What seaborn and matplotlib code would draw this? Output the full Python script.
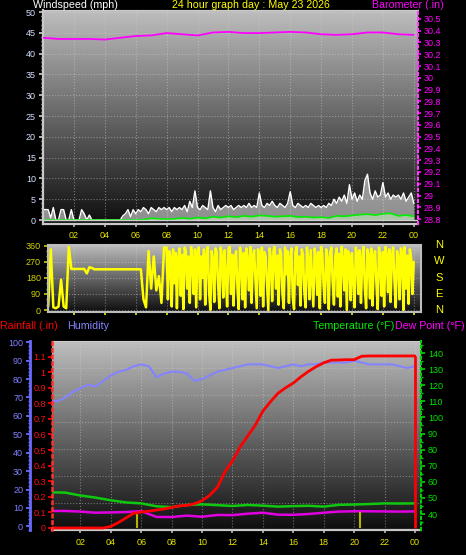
"""24 hour weather graph: wind / barometer, wind direction, rain / humidity / temperature."""
import numpy as np
import pandas as pd
import matplotlib
matplotlib.use("Agg")
import matplotlib.pyplot as plt
from matplotlib.colors import LinearSegmentedColormap
from matplotlib.ticker import MultipleLocator, FixedLocator, FuncFormatter
import seaborn as sns

sns.set_theme(style="dark")
plt.rcParams["font.family"] = ["Liberation Sans", "DejaVu Sans"]

TITLE = "24 hour graph day : May 23 2026"
HOUR_TICKS = [2, 4, 6, 8, 10, 12, 14, 16, 18, 20, 22, 24]
HOUR_LABELS = ["02", "04", "06", "08", "10", "12", "14", "16", "18", "20", "22", "00"]
COMPASS = ["N", "W", "S", "E", "N"]

# ---- 10 minute samples (00:00 .. 24:00) ----
wind_gust = [
    2.5, 2.5, 2.5, 0.5, 3.0, 0,
    0, 2.5, 2.5, 0, 0, 2.5,
    0, 0, 0, 2.5, 1.5, 0,
    1.2, 0, 0, 0, 0, 0,
    0, 0, 0, 0, 0, 0,
    0, 1.0, 1.5, 2.5, 0.8, 2.5,
    1.5, 2.5, 2.0, 3.0, 2.5, 1.5,
    3.0, 2.5, 2.0, 3.0, 2.5, 3.0,
    2.5, 3.0, 2.0, 3.0, 2.5, 3.0,
    2.5, 3.5, 2.0, 4.5, 3.0, 7.0,
    3.0, 2.5, 3.5, 3.0, 2.5, 7.0,
    3.0, 2.0, 3.5, 2.5, 3.0, 3.5,
    3.0, 3.5, 2.5, 3.0, 3.5, 3.0,
    3.5, 3.0, 4.0, 3.0, 3.5, 3.0,
    6.5, 3.5, 3.0, 4.0, 3.5, 4.5,
    3.5, 3.0, 4.0, 3.5, 3.0, 4.0,
    6.8, 3.5, 3.0, 4.0, 3.5, 3.0,
    3.5, 3.0, 4.0, 3.5, 3.0, 3.5,
    3.0, 3.5, 3.0, 4.0, 3.5, 5.0,
    4.0, 5.5, 4.5, 6.0, 4.0, 8.5,
    5.0, 6.5, 4.5, 6.0, 5.0, 9.5,
    11.0, 6.5, 5.0, 7.0, 5.5, 6.0,
    9.0, 5.5, 6.5, 5.0, 6.0, 5.5,
    6.0, 5.0, 6.5, 4.5, 5.5, 6.5,
    4.0,
]

# wind direction: 10 minute samples 00:00 .. 07:50
wind_dir_early = [
    270, 350, 20, 340, 15, 10, 20, 170, 20, 10, 355, 230,
    230, 230, 230, 230, 230, 205, 240, 235, 228, 228,
    228, 228, 228, 228, 228, 228, 228, 228, 228, 228, 228, 228, 228, 228, 228, 228, 228,
    60, 15, 330, 120, 300, 110, 190, 40, 350,
]
# wind direction: 5 minute samples 08:00 .. 24:00
wind_dir_late = [
    350, 60, 330, 300, 20, 340, 150, 320, 10, 290, 345, 80,
    310, 5, 350, 330, 120, 300, 40, 355, 280, 90, 340, 15,
    325, 350, 60, 300, 180, 340, 30, 310, 355, 100, 0, 330,
    290, 45, 345, 320, 140, 10, 350, 300, 70, 335, 200, 20,
    340, 360, 90, 310, 25, 290, 330, 130, 5, 350, 300, 60,
    320, 15, 345, 280, 110, 355, 40, 300, 335, 170, 10, 340,
    310, 80, 350, 20, 325, 300, 150, 0, 345, 290, 50, 330,
    360, 120, 305, 30, 340, 315, 90, 10, 350, 200, 330, 40,
    295, 345, 70, 5, 320, 355, 140, 300, 25, 340, 310, 100,
    15, 350, 290, 60, 335, 180, 20, 345, 300, 85, 325, 10,
    355, 310, 130, 40, 340, 290, 5, 320, 350, 160, 30, 300,
    345, 75, 315, 20, 355, 280, 110, 340, 0, 330, 300, 55,
    320, 190, 15, 350, 305, 90, 335, 40, 290, 355, 125, 10,
    340, 310, 65, 345, 25, 300, 330, 150, 5, 350, 285, 80,
    325, 20, 355, 310, 100, 340, 45, 295, 350, 170, 15, 330,
    300, 60, 345, 315, 0, 355, 120, 305, 35, 340, 290, 90,
    270,
]

# ---- 30 minute samples ----
wind_avg = [
    0, 0, 0, 0, 0, 0, 0, 0, 0, 0, 0, 0, 0,
    0.1, 0.4, 0.3, 0.2, 0.3, 0.5, 0.3, 0.6, 0.4, 0.8, 0.6, 0.9,
    0.7, 1.0, 0.8, 1.1, 1.0, 0.8, 0.9, 1.0, 0.7, 0.8, 0.6, 0.7,
    0.5, 1.0, 0.9, 1.1, 1.3, 1.4, 1.2, 1.5, 1.6, 1.0, 1.2, 0.9,
]
humidity = [
    68, 68, 70, 73, 75, 77, 76, 79, 82, 84, 85, 87, 88,
    87, 81, 83, 84, 84, 83, 79, 80, 82, 84, 85, 86,
    87, 88, 88, 88, 87, 86, 87, 88, 87, 88, 88, 89,
    89, 89, 89, 90, 89, 88, 88, 88, 88, 87, 86, 87,
]
rain = [
    0, 0, 0, 0, 0, 0, 0, 0,
    0.01, 0.035, 0.065, 0.094, 0.102, 0.108, 0.115, 0.122, 0.132, 0.142,
    0.145, 0.155, 0.175, 0.21, 0.26, 0.36, 0.43, 0.52, 0.59, 0.66,
    0.75, 0.81, 0.865, 0.9, 0.93, 0.97, 1.005, 1.035, 1.06, 1.077,
    1.078, 1.08, 1.08, 1.102, 1.104, 1.104, 1.104, 1.104, 1.104, 1.104, 1.104,
]

# ---- hourly samples ----
baro = [
    30.34, 30.33, 30.33, 30.33, 30.325, 30.34, 30.355, 30.36, 30.38, 30.37,
    30.36, 30.385, 30.39, 30.38, 30.38, 30.385, 30.39, 30.385, 30.37, 30.365,
    30.37, 30.385, 30.385, 30.37, 30.365,
]
temperature = [
    53.5, 53.3, 51.5, 50.2, 48.5, 47.2, 46.6, 44.8, 44.3, 45.6,
    46.0, 45.5, 45.0, 45.6, 45.2, 44.6, 44.9, 45.1, 44.6, 45.7,
    45.9, 46.2, 46.6, 46.5, 46.6,
]
dew_point = [
    41.9, 41.9, 41.5, 40.8, 41.0, 41.2, 41.8, 38.2, 38.1, 39.0,
    38.3, 39.4, 39.3, 40.2, 40.8, 39.6, 39.5, 40.0, 40.8, 41.5,
    41.7, 41.7, 41.6, 41.5, 41.6,
]
rate_hours = [5.75, 20.4]
rain_rate = [0.1, 0.1]

wind10 = pd.DataFrame({"hour": np.arange(len(wind_gust)) / 6, "gust": wind_gust})
dir_df = pd.DataFrame({
    "hour": np.concatenate([np.arange(len(wind_dir_early)) / 6,
                            8 + np.arange(len(wind_dir_late)) / 12]),
    "dir": wind_dir_early + wind_dir_late,
})
half = pd.DataFrame({"hour": np.arange(len(rain)) / 2, "avg": wind_avg,
                     "hum": humidity, "rain": rain})
hourly = pd.DataFrame({"hour": np.arange(len(baro)), "baro": baro,
                       "temp": temperature, "dew": dew_point})

W, H = 466, 555
TICK_FS = 6.5
YELLOW = "#e8e800"
BG = LinearSegmentedColormap.from_list("bg", ["#0e0e0e", "#bebebe"])


def rect(x0, y0, x1, y1):
    return [x0 / W, 1 - y1 / H, (x1 - x0) / W, (y1 - y0) / H]


def panel(fig, r, hlines=()):
    bg = fig.add_axes(r, zorder=0)
    bg.imshow(np.linspace(1, 0, 256)[:, None], cmap=BG, aspect="auto",
              extent=[0, 1, 0, 1], vmin=0, vmax=1)
    for y in hlines:
        bg.axhline(y, color="#d0d0d0", ls=":", lw=0.8, alpha=0.45)
    bg.set_xlim(0, 1)
    bg.set_ylim(0, 1)
    bg.set_axis_off()
    ax = fig.add_axes(r, zorder=1)
    ax.patch.set_visible(False)
    return ax


def trim(v, _):
    return f"{v:.1f}".rstrip("0").rstrip(".")


def clean(ax):
    ax.set_xlabel("")
    ax.set_ylabel("")


def ftext(x, y, s, color, **kw):
    kw.setdefault("ha", "left")
    fig.text(x / W, 1 - y / H, s, color=color, fontsize=7.7, va="center", **kw)


fig = plt.figure(figsize=(W / 100, H / 100), dpi=100, facecolor="black")

# --------------------------- wind speed + barometer -----------------------
ax1 = panel(fig, rect(43, 10, 418, 224))
ax1.fill_between(wind10["hour"], 0, wind10["gust"], color="#e4e4e4",
                 alpha=0.6, lw=0)
sns.lineplot(data=wind10, x="hour", y="gust", ax=ax1, color="white", lw=1.0)
ax1.fill_between(half["hour"], 0, half["avg"], color="#c0ecb8", alpha=0.6, lw=0)
sns.lineplot(data=half, x="hour", y="avg", ax=ax1, color="#00ee00", lw=1.2)
ax1.axhline(0, color="#cfcfcf", lw=1)
ax1.set_xlim(0, 24.27)
ax1.set_ylim(-0.96, 50.5)
ax1.set_xticks(HOUR_TICKS)
ax1.set_xticklabels(HOUR_LABELS)
ax1.yaxis.set_major_locator(MultipleLocator(5))
ax1.yaxis.set_minor_locator(MultipleLocator(1))
ax1.tick_params(axis="x", bottom=True, length=2.5, pad=2.5, color="#b0b0b0",
                labelcolor=YELLOW, labelsize=TICK_FS)
ax1.tick_params(axis="y", which="both", left=True, color="#c8c8c8",
                labelcolor="#d4e0ff", labelsize=TICK_FS, pad=2)
ax1.tick_params(axis="y", which="major", length=3)
ax1.tick_params(axis="y", which="minor", length=1.5)
ax1.grid(True, color="#d8d8d8", ls=":", lw=0.8, alpha=0.45)
clean(ax1)
for side in ("left", "bottom"):
    ax1.spines[side].set_color("#c8c8c8")
    ax1.spines[side].set_linewidth(1.6)
ax1.spines["top"].set_color("#cccccc")
ax1.spines["top"].set_linewidth(0.8)
ax1.spines["right"].set_visible(False)

ax1b = ax1.twinx()
ax1b.set_zorder(2)
sns.lineplot(data=hourly, x="hour", y="baro", ax=ax1b, color="#ff00ff", lw=1.3)
ax1b.set_ylim(28.758, 30.576)
ax1b.yaxis.set_major_locator(FixedLocator(np.round(np.arange(28.8, 30.55, 0.1), 1)))
ax1b.yaxis.set_major_formatter(FuncFormatter(trim))
ax1b.tick_params(axis="y", right=True, length=2.5, pad=1.5, color="#ff00ff",
                 labelcolor="#ff00ff", labelsize=TICK_FS)
clean(ax1b)
for side in ("left", "top", "bottom"):
    ax1b.spines[side].set_visible(False)
ax1b.spines["right"].set_color("#ff40ff")
ax1b.spines["right"].set_linestyle(":")
ax1b.spines["right"].set_linewidth(1.5)

# --------------------------- wind direction -------------------------------
ax2 = panel(fig, rect(48, 245, 421, 312))
sns.lineplot(data=dir_df, x="hour", y="dir", ax=ax2, color="#ffff00", lw=1.8)
ax2.set_xlim(0.32, 24.47)
ax2.set_ylim(-11, 364)
ax2.set_xticks(HOUR_TICKS)
ax2.set_xticklabels([])
ax2.set_yticks([0, 90, 180, 270, 360])
ax2.yaxis.set_minor_locator(MultipleLocator(30))
ax2.tick_params(axis="x", bottom=True, length=2, color=YELLOW)
ax2.tick_params(axis="y", which="both", left=True, color="#c8c800",
                labelcolor="#d4d400", labelsize=TICK_FS, pad=2)
ax2.tick_params(axis="y", which="major", length=3)
ax2.tick_params(axis="y", which="minor", length=1.5)
ax2.grid(True, color="#d8d8d8", ls=":", lw=0.8, alpha=0.45)
clean(ax2)
for s in ax2.spines.values():
    s.set_color("#bdbdbd")
    s.set_linewidth(1.5)
for i, d in enumerate(COMPASS):
    fig.text(439 / W, 1 - (245 + i * 16.3) / H, d, color="#ffff00", fontsize=8,
             ha="center", va="center")

# --------------------------- rain / humidity / temperature ----------------
ax_h = panel(fig, rect(52, 341, 421, 530), hlines=[k / 7 for k in range(1, 7)])
sns.lineplot(data=half, x="hour", y="hum", ax=ax_h, color="#8484ff", lw=1.5)
ax_h.set_xlim(0.13, 24.4)
ax_h.set_ylim(-2.0, 100.7)
ax_h.set_xticks(HOUR_TICKS)
ax_h.set_xticklabels(HOUR_LABELS)
ax_h.yaxis.set_major_locator(MultipleLocator(10))
ax_h.yaxis.set_minor_locator(MultipleLocator(2))
ax_h.tick_params(axis="x", bottom=True, length=2.5, pad=3.5, color="#b0b0b0",
                 labelcolor=YELLOW, labelsize=TICK_FS)
ax_h.tick_params(axis="y", which="both", left=True, color="#7070ff",
                 labelcolor="#8080ff", labelsize=TICK_FS, pad=2)
ax_h.tick_params(axis="y", which="major", length=3)
ax_h.tick_params(axis="y", which="minor", length=1.5)
ax_h.grid(True, axis="x", color="#d8d8d8", ls=":", lw=0.8, alpha=0.45)
clean(ax_h)
ax_h.spines["left"].set_position(("axes", -0.0596))
ax_h.spines["left"].set_color("#6a6aff")
ax_h.spines["left"].set_linewidth(2)
ax_h.spines["bottom"].set_color("#c8c8c8")
ax_h.spines["bottom"].set_linewidth(1.6)
ax_h.spines["top"].set_color("#cccccc")
ax_h.spines["top"].set_linewidth(0.8)
ax_h.spines["right"].set_visible(False)

ax_t = ax_h.twinx()
ax_t.set_zorder(2)
sns.lineplot(data=hourly, x="hour", y="temp", ax=ax_t, color="#10c810", lw=1.8)
sns.lineplot(data=hourly, x="hour", y="dew", ax=ax_t, color="#e000e0", lw=1.8)
ax_t.set_ylim(30.06, 147.5)
ax_t.yaxis.set_major_locator(MultipleLocator(10))
ax_t.yaxis.set_minor_locator(MultipleLocator(5))
ax_t.tick_params(axis="y", which="both", right=True, color="#00d000",
                 labelcolor="#00e000", labelsize=TICK_FS, pad=2)
ax_t.tick_params(axis="y", which="major", length=3)
ax_t.tick_params(axis="y", which="minor", length=1.5)
clean(ax_t)
for side in ("left", "top", "bottom"):
    ax_t.spines[side].set_visible(False)
ax_t.spines["right"].set_color("#00d000")
ax_t.spines["right"].set_linestyle(":")
ax_t.spines["right"].set_linewidth(1.5)

ax_r = ax_h.twinx()
ax_r.set_zorder(3)
ax_r.vlines(rate_hours, 0, rain_rate, color="#b4b400", lw=1.5)
sns.lineplot(data=half, x="hour", y="rain", ax=ax_r, color="#ff0000", lw=2)
ax_r.vlines(half["hour"].iloc[-1], 0, half["rain"].iloc[-1], color="#ff0000", lw=2)
ax_r.set_ylim(-0.013, 1.2)
ax_r.yaxis.tick_left()
ax_r.yaxis.set_major_locator(FixedLocator(np.round(np.arange(0, 1.15, 0.1), 1)))
ax_r.yaxis.set_major_formatter(FuncFormatter(trim))
ax_r.tick_params(axis="y", left=True, right=False, length=3, pad=1.5,
                 color="#ff0000", labelcolor="#ff1010", labelsize=TICK_FS)
clean(ax_r)
for side in ("right", "top", "bottom"):
    ax_r.spines[side].set_visible(False)
ax_r.spines["left"].set_visible(True)
ax_r.spines["left"].set_color("#ff3030")
ax_r.spines["left"].set_linestyle(":")
ax_r.spines["left"].set_linewidth(1.8)

# --------------------------- header texts ---------------------------------
ftext(33, 5, "Windspeed (mph)", "white")
ftext(172, 5, TITLE, "#ffff00")
ftext(372, 5, "Barometer (.in)", "#ff00ff")
ftext(0, 326, "Rainfall (.in)", "#ff0000")
ftext(67, 326, "Humidity", "#8484ff")
ftext(313, 326, "Temperature (°F)", "#00ee00")
ftext(395, 326, "Dew Point (°F)", "#ff00ff")

fig.savefig("out.png", dpi=100, facecolor="black")
